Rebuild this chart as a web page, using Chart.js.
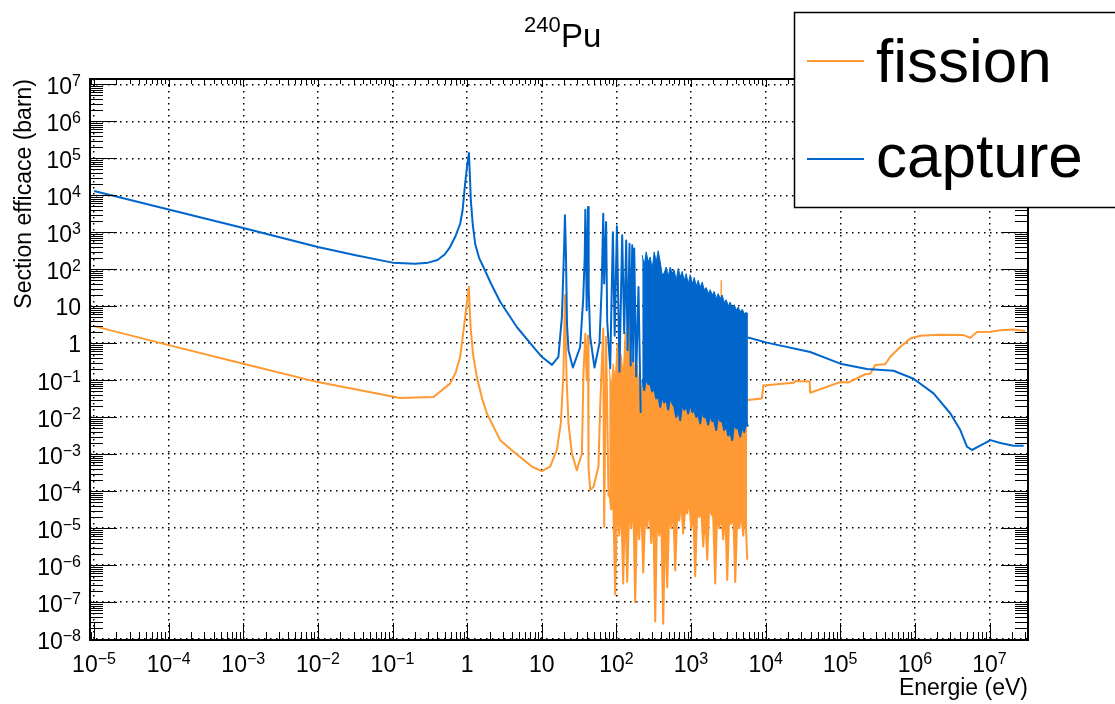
<!DOCTYPE html>
<html>
<head>
<meta charset="utf-8">
<title>240Pu</title>
<script src="https://cdn.jsdelivr.net/npm/chart.js"></script>
<style>
    html, body { margin: 0; padding: 0; background: #fff; }
    #wrap { position: relative; width: 1115px; height: 704px; }
</style>
</head>
<body>
<div id="wrap"><canvas id="xs-chart"></canvas></div>
<script>
// values: energy in eV, cross section in barn

// fission, smooth part and resolved resonances
var fissionLowEnergy = [
    1e-5, 1e-4, 1e-3, 1e-2, 0.126, 0.354, 0.59, 0.7, 0.806, 0.87, 0.94, 1.0, 1.056, 1.09, 1.12, 1.2, 1.35, 1.6, 1.84,
    2.77, 4.6, 7.5, 10,
    12.96, 15.9, 18.0, 19.5, 20.45, 21.4, 22.8, 25.3, 29.5, 34.5, 36.2, 38.35, 40.0, 41.66, 42.3, 44.5,
    49.3, 57.5, 60.6, 66.65, 68.6, 72.8, 78.4
];
var fissionLowXs = [
    2.9, 0.89, 0.28, 0.089, 0.033, 0.035, 0.081, 0.16, 0.43, 1.4, 5.1, 14, 33, 6, 2.24, 0.5, 0.12, 0.03, 0.0126,
    2.4e-3, 1e-3, 4.5e-4, 3.5e-4,
    4.6e-4, 1.3e-3, 6.8e-3, 0.15, 20, 0.15, 6.8e-3, 1.05e-3, 3.7e-4, 1.05e-3, 0.15, 1.8, 0.1, 1.6, 4.6e-4, 1.1e-4,
    1.3e-4, 4.6e-4, 0.019, 2.5, 1.1e-5, 1.5, 7.1e-5
];
// fission, dense resonance region: upper and lower edge of the band
var fissionBandEnergy = [
    80.1, 85.2, 90.6, 96.4, 102.5, 109.0, 116.0, 123.3, 131.2, 139.6,
    148.4, 157.9, 168.0, 178.6, 190.0, 202.1, 215.0, 228.7, 243.2, 258.8,
    275.3, 292.8, 311.5, 331.3, 352.4, 374.9, 398.7, 424.1, 451.2, 479.8,
    510.5, 542.9, 577.5, 614.2, 653.2, 694.8, 739.0, 786.0, 836.0, 889.2,
    945.9, 1006, 1070, 1138, 1211, 1288, 1370, 1457, 1550, 1649,
    1754, 1866, 1984, 2110, 2245, 2388, 2540, 2702, 2873, 3057,
    3252, 3459, 3679, 3913, 4162, 4427, 4709, 5009, 5328, 5667
];
var fissionBandTop = [
    0.2, 0.063, 0.28, 0.1, 1, 0.16, 0.5, 0.126, 2.0, 0.25,
    5.0, 0.32, 0.5, 0.126, 0.25, 0.063, 0.063, 0.1, 0.126, 0.079,
    5.8, 0.079, 0.079, 0.063, 4.0, 0.05, 0.063, 0.05, 0.05, 0.04,
    0.063, 0.04, 0.04, 0.032, 0.032, 0.032, 0.032, 0.025, 0.04, 0.025,
    0.025, 0.02, 0.032, 0.02, 0.02, 0.016, 0.016, 0.0126, 0.0126, 0.0126,
    0.0126, 0.01, 0.01, 0.01, 0.0126, 0.01, 50, 0.0079, 0.0079, 0.0063,
    0.0063, 0.005, 0.005, 0.0063, 0.0079, 0.0063, 0.0063, 0.0079, 0.01, 0.01
];
var fissionBandBottom = [
    1e-4, 3.2e-5, 6.3e-5, 1.6e-7, 1e-4, 6.3e-6, 5e-5, 3.2e-7, 7.9e-5, 3.5e-7,
    4e-5, 1e-5, 6.3e-5, 1e-7, 3.2e-5, 5e-6, 6.3e-5, 6.3e-7, 2.5e-5, 1e-5,
    5e-5, 4e-6, 3.2e-5, 3e-8, 4e-5, 6.3e-6, 2.5e-5, 2.6e-8, 1.6e-5, 2.5e-7,
    3.2e-5, 1e-5, 4e-5, 7.2e-7, 2.5e-5, 1.6e-5, 5e-5, 7.2e-6, 3.2e-5, 2.5e-5,
    6.3e-5, 1e-5, 3.2e-5, 5e-7, 4e-5, 2e-5, 3.2e-5, 3.2e-6, 2.5e-5, 1.4e-6,
    4e-5, 2.5e-5, 2e-5, 3.2e-7, 3.2e-5, 1e-5, 2.5e-5, 5e-6, 3.2e-5, 4e-7,
    2.5e-5, 1.3e-5, 3.2e-5, 3.5e-7, 2e-5, 1e-5, 2.5e-5, 6.3e-6, 3.2e-5, 1.4e-6
];
// fission, above the resonance region
var fissionHighEnergy = [
    5800, 8900, 9300, 2.37e4, 2.5e4, 3.88e4, 3.96e4, 1e5, 1.29e5, 2.16e5,
    2.52e5, 2.95e5, 4.0e5, 4.68e5, 6.37e5, 8.67e5, 1.18e6, 2.19e6, 4.5e6, 5.53e6,
    6.8e6, 1.03e7, 1.4e7, 2.1e7, 3.0e7
];
var fissionHighXs = [
    0.029, 0.032, 0.072, 0.085, 0.095, 0.093, 0.046, 0.089, 0.087, 0.145,
    0.15, 0.26, 0.27, 0.43, 0.79, 1.35, 1.6, 1.7, 1.66, 1.4,
    2.0, 2.04, 2.24, 2.34, 2.14
];

// capture, smooth part and resolved resonances
var captureLowEnergy = [
    1e-5, 1e-4, 1e-3, 1e-2, 0.032, 0.1, 0.2, 0.3, 0.4, 0.5, 0.59, 0.7, 0.806, 0.87, 0.94, 1.0, 1.056, 1.09, 1.12,
    1.19, 1.28, 1.45, 1.65, 2.1, 2.77, 4.63, 7.75, 10,
    13.7, 16.7, 18.6, 19.8, 20.45, 21.1, 21.8, 22.8, 26.1, 32.7,
    35.9, 37.6, 38.35, 39.3, 40.0, 40.9, 41.66, 42.5, 44.5, 50.9,
    59.3, 63.5, 66.65, 68.6, 72.8, 75.3, 82.6, 89.8, 94.9, 101.6,
    110, 119.6, 127.3, 135.3, 140.9, 149.9, 155.5, 162.9, 168, 173.3,
    184.2, 197.7, 211.7
];
var captureLowXs = [
    1.3e4, 4.1e3, 1.3e3, 400, 240, 151, 141, 151, 178, 251, 398, 794, 1700, 4000, 2.1e4, 6.3e4, 1.38e5, 3.2e4, 7244,
    1600, 490, 200, 115, 40, 13.2, 2.75, 0.79, 0.43,
    0.26, 0.43, 5.1, 250, 2884, 250, 3.2, 0.65, 0.22, 0.79,
    16, 200, 4074, 200, 7.8, 200, 4786, 32, 1.5, 0.22,
    1, 32, 3162, 41, 1905, 4.0, 0.21, 1000, 1.6, 1445,
    0.17, 832, 1.86, 603, 0.65, 490, 0.25, 447, 0.32, 363,
    0.126, 33, 0.013
];
// capture, dense resonance region: upper and lower edge of the band
var captureBandEnergy = [
    222, 236, 251, 267, 284, 302, 321, 342, 363, 387,
    411, 437, 465, 495, 526, 560, 595, 633, 674, 717,
    762, 811, 862, 917, 976, 1038, 1104, 1175, 1249, 1329,
    1413, 1503, 1599, 1701, 1809, 1924, 2047, 2177, 2316, 2463,
    2620, 2787, 2965, 3154, 3354, 3568, 3795, 4036, 4295, 4568,
    4859, 5168, 5497, 5790
];
var captureBandTop = [
    240, 126, 295, 158, 214, 100, 295, 158, 316, 158,
    71, 79, 115, 63, 115, 79, 95, 50, 105, 63,
    87, 50, 76, 40, 71, 40, 60, 35, 50, 32,
    45, 28, 32, 22, 28, 20, 25, 16, 22, 16,
    20, 12.6, 15, 10, 13, 8.9, 11, 7.9, 9.5, 7.1,
    8.3, 6.3, 6.8, 6.3
];
var captureBandBottom = [
    0.1, 0.054, 0.126, 0.079, 0.079, 0.05, 0.063, 0.032, 0.04, 0.019,
    0.04, 0.025, 0.032, 0.016, 0.04, 0.024, 0.02, 0.0102, 0.016, 0.0083,
    0.025, 0.016, 0.02, 0.0126, 0.025, 0.0138, 0.016, 0.0102, 0.0126, 0.0068,
    0.016, 0.01, 0.01, 0.0063, 0.0126, 0.0079, 0.0079, 0.0045, 0.0126, 0.0079,
    0.0079, 0.0045, 0.0063, 0.0032, 0.004, 0.0024, 0.0079, 0.005, 0.005, 0.003,
    0.0063, 0.004, 0.0079, 0.0055
];
// capture, above the resonance region
var captureHighEnergy = [
    5800, 1.04e4, 3.96e4, 1e5, 2.28e5, 5.18e5, 9.6e5, 1.78e6, 2.99e6, 4.06e6,
    4.99e6, 5.82e6, 7.5e6, 1.03e7, 1.4e7, 2.1e7, 2.87e7
];
var captureHighXs = [
    1.43, 1.04, 0.58, 0.28, 0.2, 0.18, 0.11, 0.044, 0.0126, 4.5e-3,
    1.6e-3, 1.3e-3, 1.7e-3, 2.4e-3, 2.0e-3, 1.7e-3, 1.7e-3
];

var seriesNames = ['fission', 'capture'];
var seriesColors = ['#ff9933', '#0066cc'];

var xDecades = [1e-5, 1e-4, 1e-3, 1e-2, 1e-1, 1, 10, 100, 1e3, 1e4, 1e5, 1e6, 1e7];
var xTickLabels = ['10^−5', '10^−4', '10^−3', '10^−2', '10^−1', '1', '10', '10^2', '10^3', '10^4', '10^5', '10^6', '10^7'];
var yDecades = [1e-8, 1e-7, 1e-6, 1e-5, 1e-4, 1e-3, 1e-2, 1e-1, 1, 10, 100, 1e3, 1e4, 1e5, 1e6, 1e7];
var yTickLabels = ['10^−8', '10^−7', '10^−6', '10^−5', '10^−4', '10^−3', '10^−2', '10^−1', '1', '10', '10^2', '10^3', '10^4', '10^5', '10^6', '10^7'];

var FONT = '"Liberation Sans", Arial, Helvetica, sans-serif';

function toPoints(xs, ys) {
    return xs.map(function (x, i) { return { x: x, y: ys[i] }; });
}

function lineSet(name, color, xs, ys, order, fill) {
    return {
        label: name,
        data: toPoints(xs, ys),
        borderColor: color,
        backgroundColor: color,
        borderWidth: fill ? 1 : 2,
        borderJoinStyle: 'round',
        pointRadius: 0,
        fill: fill || false,
        order: order
    };
}

// label like 10^5 drawn with a raised exponent
function drawPower(ctx, label, x, y, align) {
    var parts = label.split('^');
    ctx.font = '23px ' + FONT;
    var baseW = ctx.measureText(parts[0]).width;
    var expW = 0;
    if (parts.length > 1) {
        ctx.font = '16px ' + FONT;
        expW = ctx.measureText(parts[1]).width;
    }
    var total = baseW + expW;
    var left = align === 'right' ? x - total : x - total / 2;
    ctx.textAlign = 'left';
    ctx.textBaseline = 'alphabetic';
    ctx.font = '23px ' + FONT;
    ctx.fillText(parts[0], left, y);
    if (parts.length > 1) {
        ctx.font = '16px ' + FONT;
        ctx.fillText(parts[1], left + baseW, y - 8);
    }
}

var rootFrame = {
    id: 'rootFrame',
    beforeDraw: function (chart) {
        var ctx = chart.ctx;
        ctx.save();
        ctx.fillStyle = '#fff';
        ctx.fillRect(0, 0, chart.width, chart.height);
        ctx.restore();
    },
    afterDraw: function (chart) {
        var ctx = chart.ctx;
        var a = chart.chartArea;
        var xs = chart.scales.x;
        var ys = chart.scales.y;
        ctx.save();
        ctx.strokeStyle = '#000';
        ctx.fillStyle = '#000';

        // ticks on all four sides
        ctx.lineWidth = 1;
        ctx.beginPath();
        for (var n = -6; n <= 7; n++) {
            for (var m = 1; m <= 9; m++) {
                var v = m * Math.pow(10, n);
                if (v >= xs.min && v <= xs.max) {
                    var px = Math.round(xs.getPixelForValue(v)) + 0.5;
                    var lb = m === 1 ? 17 : 8;
                    var lt = m === 1 ? 8 : 5;
                    ctx.moveTo(px, a.bottom); ctx.lineTo(px, a.bottom - lb);
                    ctx.moveTo(px, a.top); ctx.lineTo(px, a.top + lt);
                }
            }
        }
        for (var k = -9; k <= 7; k++) {
            for (var j = 1; j <= 9; j++) {
                var w = j * Math.pow(10, k);
                if (w >= ys.min && w <= ys.max) {
                    var py = Math.round(ys.getPixelForValue(w)) + 0.5;
                    var ll = j === 1 ? 27 : 13;
                    ctx.moveTo(a.left, py); ctx.lineTo(a.left + ll, py);
                    ctx.moveTo(a.right, py); ctx.lineTo(a.right - ll, py);
                }
            }
        }
        ctx.stroke();

        // frame
        ctx.lineWidth = 2;
        ctx.strokeRect(a.left, a.top, a.right - a.left, a.bottom - a.top);

        // tick labels
        xDecades.forEach(function (v, i) {
            drawPower(ctx, xTickLabels[i], xs.getPixelForValue(v), 672, 'center');
        });
        yDecades.forEach(function (v, i) {
            var lab = yTickLabels[i];
            var off = lab.indexOf('^') > 0 ? 10 : 8.5;
            drawPower(ctx, lab, 81, ys.getPixelForValue(v) + off, 'right');
        });

        // axis titles
        ctx.font = '23px ' + FONT;
        ctx.textAlign = 'right';
        ctx.textBaseline = 'alphabetic';
        ctx.fillText('Energie (eV)', a.right, 695);
        ctx.save();
        ctx.translate(31, a.top);
        ctx.rotate(-Math.PI / 2);
        ctx.fillText('Section efficace (barn)', 0, 0);
        ctx.restore();

        // title
        ctx.textAlign = 'left';
        ctx.font = '22px ' + FONT;
        ctx.fillText('240', 524, 32);
        ctx.font = '33px ' + FONT;
        ctx.fillText('Pu', 561, 47);

        // legend box
        ctx.fillStyle = '#fff';
        ctx.fillRect(794, 12, 330, 195);
        ctx.lineWidth = 1.5;
        ctx.strokeStyle = '#000';
        ctx.strokeRect(794.5, 12.5, 330, 195);
        var rowsY = [61, 159];
        var textY = [82, 177];
        ctx.lineWidth = 2;
        seriesNames.forEach(function (name, i) {
            ctx.strokeStyle = seriesColors[i];
            ctx.beginPath();
            ctx.moveTo(807, rowsY[i]);
            ctx.lineTo(864, rowsY[i]);
            ctx.stroke();
            ctx.fillStyle = '#000';
            ctx.font = '62px ' + FONT;
            ctx.fillText(name, 876, textY[i]);
        });
        ctx.restore();
    }
};

var ctx = document.getElementById('xs-chart').getContext('2d');
var xsChart = new Chart(ctx, {
    type: 'line',
    data: {
        datasets: [
            lineSet(seriesNames[0], seriesColors[0], fissionLowEnergy, fissionLowXs, 2),
            lineSet(seriesNames[0], seriesColors[0], fissionBandEnergy, fissionBandTop, 2, '+1'),
            lineSet(seriesNames[0], seriesColors[0], fissionBandEnergy, fissionBandBottom, 2),
            lineSet(seriesNames[0], seriesColors[0], fissionHighEnergy, fissionHighXs, 2),
            lineSet(seriesNames[1], seriesColors[1], captureLowEnergy, captureLowXs, 1),
            lineSet(seriesNames[1], seriesColors[1], captureBandEnergy, captureBandTop, 1, '+1'),
            lineSet(seriesNames[1], seriesColors[1], captureBandEnergy, captureBandBottom, 1),
            lineSet(seriesNames[1], seriesColors[1], captureHighEnergy, captureHighXs, 1)
        ]
    },
    options: {
        responsive: true,
        maintainAspectRatio: false,
        animation: false,
        layout: { padding: { left: 0, right: 87, top: 79, bottom: 0 } },
        plugins: {
            legend: { display: false },
            tooltip: { enabled: false },
            title: { display: false }
        },
        scales: {
            x: {
                type: 'logarithmic',
                min: 8.83e-6,
                max: 3.28e7,
                afterBuildTicks: function (scale) {
                    scale.ticks = xDecades.map(function (v) { return { value: v }; });
                },
                afterFit: function (scale) { scale.height = 64; },
                ticks: { display: false },
                grid: { color: '#000', lineWidth: 1.5, drawTicks: false },
                border: { display: false, dash: [1.5, 4.5] }
            },
            y: {
                type: 'logarithmic',
                min: 9.5e-9,
                max: 1.39e7,
                afterBuildTicks: function (scale) {
                    scale.ticks = yDecades.map(function (v) { return { value: v }; });
                },
                afterFit: function (scale) { scale.width = 90; },
                ticks: { display: false },
                grid: { color: '#000', lineWidth: 1.5, drawTicks: false },
                border: { display: false, dash: [1.5, 4.5] }
            }
        }
    },
    plugins: [rootFrame]
});
</script>
</body>
</html>
